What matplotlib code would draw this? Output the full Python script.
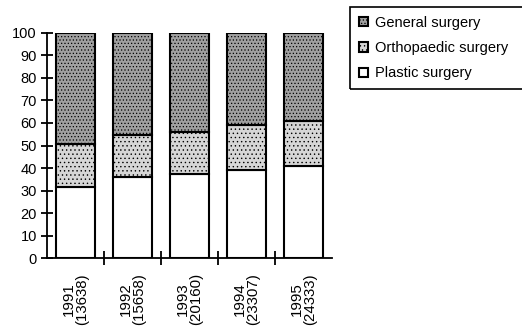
import matplotlib
matplotlib.use("Agg")
import matplotlib.pyplot as plt
import matplotlib.patches as mpatches
import numpy as np

plt.rcParams['font.family'] = ['Liberation Sans', 'DejaVu Sans']
plt.rcParams['hatch.linewidth'] = 0.5

years = ["1991", "1992", "1993", "1994", "1995"]
counts = ["13638", "15658", "20160", "23307", "24333"]
plastic = [31.5, 36, 37.5, 39, 41]
orthopaedic = [19, 18.5, 18.5, 20, 20]
general = [100 - p - o for p, o in zip(plastic, orthopaedic)]

fig = plt.figure(figsize=(5.22, 3.28), dpi=100)
ax = fig.add_axes([0.09, 0.2134, 0.546, 0.686])

x = np.arange(len(years))
w = 0.68
lw = 1.5
ax.bar(x, plastic, w, color='white', edgecolor='black', linewidth=lw, label='Plastic surgery')
ax.bar(x, orthopaedic, w, bottom=plastic, color='#d6d6d6', edgecolor='black', linewidth=lw,
       hatch='....', label='Orthopaedic surgery')
bottom2 = [p + o for p, o in zip(plastic, orthopaedic)]
ax.bar(x, general, w, bottom=bottom2, color='#a0a0a0', edgecolor='black', linewidth=lw,
       hatch='.....', label='General surgery')

ax.set_xlim(-0.5, len(years) - 0.5)
ax.set_ylim(0, 100)
ax.set_yticks(range(0, 101, 10))
ax.tick_params(axis='y', direction='inout', length=8.6, width=1.3, labelsize=10.5, pad=3)
ax.set_xticks(np.arange(0.5, len(years) - 1, 1.0))
ax.set_xticklabels([])
ax.tick_params(axis='x', direction='inout', length=10, width=1.3)
for xi, (yr, c) in enumerate(zip(years, counts)):
    ax.annotate(f"{yr}\n({c})", xy=(xi, 0), xycoords=('data', 'axes fraction'),
                xytext=(0, -10.8), textcoords='offset points',
                rotation=90, ha='center', va='top', multialignment='center',
                fontsize=10.8, linespacing=1.0)

for s in ['top', 'right']:
    ax.spines[s].set_visible(False)
for s in ['left', 'bottom']:
    ax.spines[s].set_linewidth(1.3)

handles, labels = ax.get_legend_handles_labels()
leg = fig.legend(handles[::-1], labels[::-1], loc='upper left',
                 bbox_to_anchor=(0.6705, 0.9787),
                 fontsize=10.5, frameon=False,
                 handlelength=0.63, handleheight=0.63,
                 handletextpad=0.45, borderpad=0.6, labelspacing=0.78, borderaxespad=0)

fig.canvas.draw()
bb = leg.get_window_extent().transformed(fig.transFigure.inverted())
frame = mpatches.Rectangle((bb.x0, bb.y0), 0.5, bb.height, transform=fig.transFigure,
                           fill=False, edgecolor='black', linewidth=1.2, clip_on=False)
fig.patches.append(frame)

fig.savefig("out.png", dpi=100)
